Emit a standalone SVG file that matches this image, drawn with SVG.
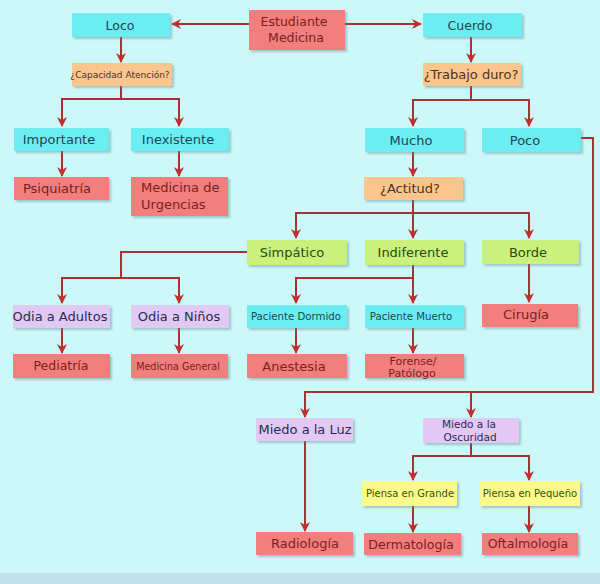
<svg xmlns="http://www.w3.org/2000/svg" width="600" height="584" viewBox="0 0 600 584">
<defs>
<style>
.n{stroke:none;filter:url(#sh)}
.cy{fill:#6cedf2}.sa{fill:#f27e7e}.or{fill:#fbc68e}.gr{fill:#c9f17c}.la{fill:#e2c9f4}.ye{fill:#fbfb8c}
text{font-family:"DejaVu Sans","Verdana",sans-serif;text-anchor:middle}
.tc{fill:#1c4654}.ts{fill:#7a1e22}.to{fill:#4a3220}.tg{fill:#2c4a12}.tl{fill:#2a2a55}.ty{fill:#3a5010}
.c path{fill:none;stroke:#a83232;stroke-width:2}
.c path.a{marker-end:url(#ar)}
</style>
<filter id="sh" x="-10%" y="-20%" width="130%" height="150%">
<feDropShadow dx="2" dy="2" stdDeviation="1" flood-color="#5f8c92" flood-opacity="0.45"/>
</filter>
<marker id="ar" markerUnits="userSpaceOnUse" markerWidth="10" markerHeight="10" refX="9" refY="5" orient="auto">
<path d="M0,0 L10,5 L0,10 L3,5 z" fill="#c0302b"/>
</marker>
</defs>
<rect x="0" y="0" width="600" height="584" fill="#cdf8fa"/>
<rect x="0" y="573" width="600" height="11" fill="#c3e3ec"/>

<g class="c" id="connectors">
<path class="a" d="M249,24 H172"/>
<path class="a" d="M345,24 H421"/>
<path class="a" d="M121,37 V62"/>
<path class="a" d="M121,86 V99 H62 V126"/>
<path class="a" d="M121,99 H179 V126"/>
<path class="a" d="M62,151 V176"/>
<path class="a" d="M179,151 V176"/>
<path class="a" d="M471,37 V62"/>
<path class="a" d="M471,86 V100 H413 V126"/>
<path class="a" d="M471,100 H529 V126"/>
<path class="a" d="M413,152 V176"/>
<path class="a" d="M413,200 V238"/>
<path class="a" d="M413,213 H296 V238"/>
<path class="a" d="M413,213 H529 V238"/>
<path class="a" d="M247,252 H121 V278 H62 V303"/>
<path class="a" d="M121,278 H179 V303"/>
<path class="a" d="M62,328 V353"/>
<path class="a" d="M179,328 V353"/>
<path class="a" d="M413,265 V303"/>
<path class="a" d="M413,278 H296 V303"/>
<path class="a" d="M296,328 V353"/>
<path class="a" d="M413,328 V353"/>
<path class="a" d="M529,264 V302"/>
<path class="a" d="M581,138 H593 V392 H305 V417"/>
<path class="a" d="M471,392 V417"/>
<path class="a" d="M305,441 V531"/>
<path class="a" d="M471,443 V456 H413 V480"/>
<path class="a" d="M471,456 H529 V480"/>
<path class="a" d="M413,506 V532"/>
<path class="a" d="M529,506 V532"/>
</g>

<g id="estudiante"><rect class="n sa" x="249" y="10" width="96" height="40"/><text class="ts" font-size="12.5" x="294" y="26">Estudiante</text><text class="ts" font-size="12.5" x="296" y="42">Medicina</text></g>
<g id="loco"><rect class="n cy" x="72" y="13" width="98" height="24"/><text class="tc" font-size="12.5" x="120" y="29.5">Loco</text></g>
<g id="cuerdo"><rect class="n cy" x="423" y="13" width="99" height="24"/><text class="tc" font-size="12.5" x="470" y="29.5">Cuerdo</text></g>
<g id="capacidad"><rect class="n or" x="72" y="63" width="100" height="23"/><text class="to" font-size="9" x="120" y="78">¿Capacidad Atención?</text></g>
<g id="trabajo"><rect class="n or" x="423" y="63" width="98" height="23"/><text class="to" font-size="13" x="471" y="79">¿Trabajo duro?</text></g>
<g id="importante"><rect class="n cy" x="14" y="128" width="95" height="23"/><text class="tc" font-size="13" x="59" y="144">Importante</text></g>
<g id="inexistente"><rect class="n cy" x="131" y="128" width="98" height="23"/><text class="tc" font-size="13" x="178" y="144">Inexistente</text></g>
<g id="mucho"><rect class="n cy" x="365" y="128" width="99" height="24"/><text class="tc" font-size="13" x="411" y="144.5">Mucho</text></g>
<g id="poco"><rect class="n cy" x="482" y="128" width="99" height="24"/><text class="tc" font-size="13" x="525" y="144.5">Poco</text></g>
<g id="psiquiatria"><rect class="n sa" x="14" y="177" width="95" height="23"/><text class="ts" font-size="13" x="57" y="193">Psiquiatría</text></g>
<g id="urgencias"><rect class="n sa" x="131" y="177" width="97" height="39"/><text class="ts" font-size="13" x="141" y="192" text-anchor="start" style="text-anchor:start">Medicina de</text><text class="ts" font-size="13" x="141" y="209" style="text-anchor:start">Urgencias</text></g>
<g id="actitud"><rect class="n or" x="364" y="177" width="99" height="23"/><text class="to" font-size="13" x="410" y="193">¿Actitud?</text></g>
<g id="simpatico"><rect class="n gr" x="247" y="240" width="100" height="25"/><text class="tg" font-size="13" x="292" y="257">Simpático</text></g>
<g id="indiferente"><rect class="n gr" x="365" y="240" width="99" height="25"/><text class="tg" font-size="13" x="413" y="257">Indiferente</text></g>
<g id="borde"><rect class="n gr" x="482" y="240" width="97" height="24"/><text class="tg" font-size="13" x="528" y="257">Borde</text></g>
<g id="odia-adultos"><rect class="n la" x="13" y="305" width="97" height="23"/><text class="tl" font-size="13" x="60" y="321">Odia a Adultos</text></g>
<g id="odia-ninos"><rect class="n la" x="131" y="305" width="98" height="23"/><text class="tl" font-size="13" x="179" y="321">Odia a Niños</text></g>
<g id="paciente-dormido"><rect class="n cy" x="247" y="305" width="100" height="23"/><text class="tc" font-size="10.2" x="296" y="320">Paciente Dormido</text></g>
<g id="paciente-muerto"><rect class="n cy" x="365" y="305" width="99" height="23"/><text class="tc" font-size="10.2" x="411" y="320">Paciente Muerto</text></g>
<g id="cirugia"><rect class="n sa" x="482" y="304" width="96" height="23"/><text class="ts" font-size="13" x="526" y="319">Cirugía</text></g>
<g id="pediatria"><rect class="n sa" x="13" y="354" width="97" height="24"/><text class="ts" font-size="12.5" x="61" y="370">Pediatría</text></g>
<g id="medicina-general"><rect class="n sa" x="131" y="354" width="97" height="24"/><text class="ts" font-size="9.6" x="178" y="369.5">Medicina General</text></g>
<g id="anestesia"><rect class="n sa" x="247" y="354" width="100" height="24"/><text class="ts" font-size="13" x="294" y="371">Anestesia</text></g>
<g id="forense"><rect class="n sa" x="365" y="354" width="99" height="24"/><text class="ts" font-size="11" x="413" y="365">Forense/</text><text class="ts" font-size="11" x="412" y="377">Patólogo</text></g>
<g id="miedo-luz"><rect class="n la" x="256" y="418" width="97" height="23"/><text class="tl" font-size="13" x="305" y="434">Miedo a la Luz</text></g>
<g id="miedo-oscuridad"><rect class="n la" x="423" y="418" width="96" height="25"/><text class="tl" font-size="10.5" x="469" y="428">Miedo a la</text><text class="tl" font-size="10.5" x="470" y="441">Oscuridad</text></g>
<g id="piensa-grande"><rect class="n ye" x="362" y="481" width="95" height="25"/><text class="ty" font-size="10" x="410" y="497">Piensa en Grande</text></g>
<g id="piensa-pequeno"><rect class="n ye" x="480" y="481" width="100" height="25"/><text class="ty" font-size="10" x="530" y="497">Piensa en Pequeño</text></g>
<g id="radiologia"><rect class="n sa" x="256" y="532" width="97" height="23"/><text class="ts" font-size="13" x="305" y="548">Radiología</text></g>
<g id="dermatologia"><rect class="n sa" x="364" y="533" width="97" height="22"/><text class="ts" font-size="12.6" x="411" y="548.5">Dermatología</text></g>
<g id="oftalmologia"><rect class="n sa" x="482" y="533" width="96" height="22"/><text class="ts" font-size="12.6" x="528" y="547.5">Oftalmología</text></g>
</svg>
